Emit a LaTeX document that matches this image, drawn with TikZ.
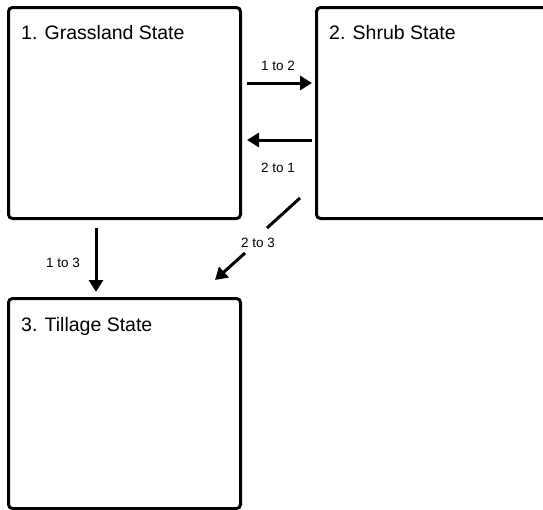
\documentclass[tikz,border=0pt]{standalone}
\usepackage{fontspec}
\setmainfont{Liberation Sans}
\usetikzlibrary{arrows.meta,calc}
\begin{document}
\begin{tikzpicture}[x=1pt,y=-1pt,
  statebox/.style={draw=black,line width=3pt,rounded corners=4pt,fill=white},
  title/.style={anchor=base west,inner sep=0pt,font=\fontsize{19.5}{22}\selectfont},
  lab/.style={anchor=base,inner sep=0pt,font=\fontsize{13.5}{15}\selectfont},
  conn/.style={line width=3pt,-{Triangle[length=12pt,width=14pt]},shorten >=0pt}]
\useasboundingbox (0,0) rectangle (543,509);
\begin{scope}
\clip (0,0) rectangle (543,509);
\node[statebox,minimum width=232pt,minimum height=211pt,inner sep=0pt,anchor=north west] (b1) at (7,6) {};
\node[statebox,minimum width=250pt,minimum height=211pt,inner sep=0pt,anchor=north west] (b2) at (315,6) {};
\node[statebox,minimum width=232pt,minimum height=210pt,inner sep=0pt,anchor=north west] (b3) at (7,297) {};
\end{scope}
\node[title] (t1) at (21,39) {1. Grassland State};
\node[title] (t2) at (329,39) {2. Shrub State};
\node[title] (t3) at (21,331) {3. Tillage State};
% connectors
\coordinate (a12s) at ($(b1.north east)+(5,77)$);
\coordinate (a12e) at ($(b2.north west)+(-3,77)$);
\draw[conn] (a12s) -- (a12e);
\node[lab] (l12) at (278,70) {1 to 2};
\coordinate (a21s) at ($(b2.north west)+(-3,134)$);
\coordinate (a21e) at ($(b1.north east)+(5,134)$);
\draw[conn] (a21s) -- (a21e);
\node[lab] (l21) at (278,172) {2 to 1};
\coordinate (a13s) at ($(b1.south west)+(89,8)$);
\coordinate (a13e) at ($(b3.north west)+(89,-5)$);
\draw[conn] (a13s) -- (a13e);
\node[lab] (l13) at (63,267) {1 to 3};
\coordinate (a23s) at ($(b2.south west)+(-15,-22)$);
\coordinate (a23m) at (267,228);
\coordinate (a23n) at (245,253);
\coordinate (a23e) at ($(b3.north west)+(208,-17)$);
\draw[line width=3pt] (a23s) -- (a23m);
\draw[conn] (a23n) -- (a23e);
\node[lab] (l23) at (258,247) {2 to 3};
\end{tikzpicture}
\end{document}
